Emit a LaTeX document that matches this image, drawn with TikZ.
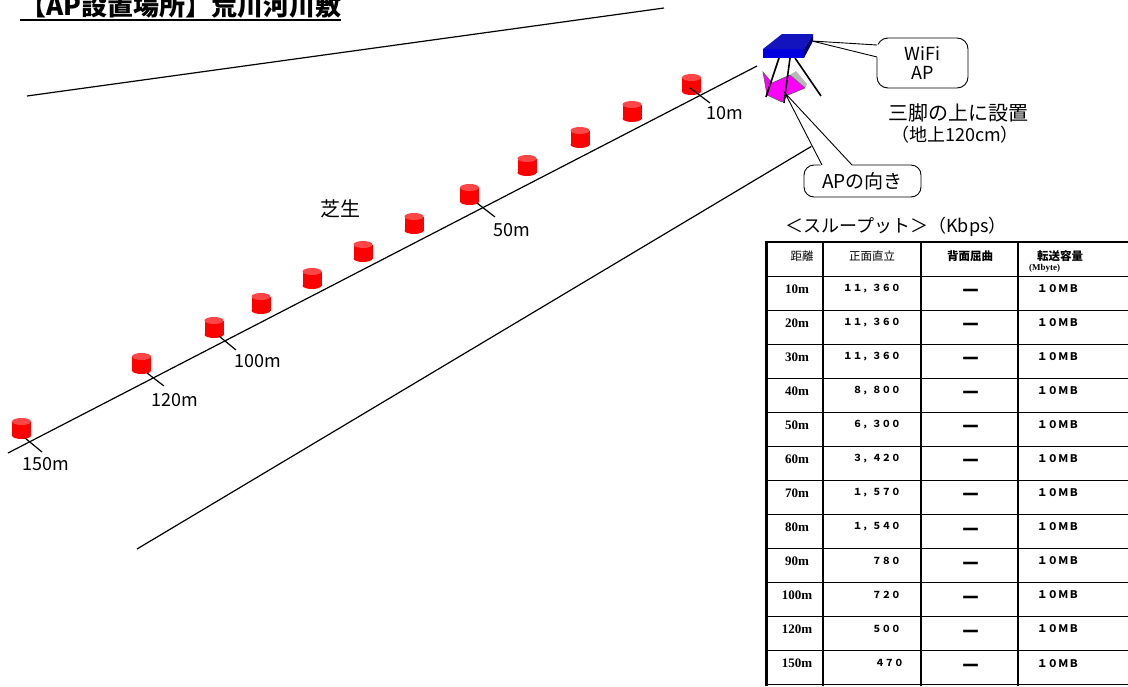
\documentclass[tikz,border=0pt]{standalone}
\usepackage{fontspec}
\setmainfont{Noto Sans CJK JP}
\newfontfamily\tnr{Liberation Serif}
\usetikzlibrary{calc}
\definecolor{drumred}{RGB}{255,0,0}
\definecolor{drumtop}{RGB}{255,70,70}
\definecolor{aptop}{RGB}{20,20,190}
\definecolor{apfront}{RGB}{0,0,225}
\definecolor{apside}{RGB}{0,0,120}
\definecolor{dirpink}{RGB}{255,0,255}
\begin{document}
\begin{tikzpicture}[x=1pt,y=-1pt,
  guide/.style={line width=1.2pt},
  tickline/.style={line width=1.2pt},
  dist/.style={font=\fontsize{18}{20}\selectfont, inner sep=0pt},
  jtext/.style={font=\fontsize{20}{22}\selectfont, inner sep=0pt},
  callout/.style={draw, line width=0.9pt, rounded corners=11pt, fill=white, inner sep=0pt, align=center},
  callline/.style={line width=0.9pt},
  leg/.style={line width=1.6pt},
  thinrule/.style={line width=0.9pt},
  colrule/.style={line width=1.2pt},
  hdr/.style={font=\fontsize{11.5}{12}\selectfont, inner sep=0pt},
  hdrb/.style={font=\fontsize{11.5}{12}\selectfont\bfseries, inner sep=0pt},
  rowlbl/.style={font=\tnr\fontsize{13}{14}\selectfont\bfseries, inner sep=0pt},
  val/.style={font=\fontsize{9.6}{10}\selectfont\bfseries, inner sep=0pt},
  nodash/.style={font=\fontsize{21}{21}\selectfont\bfseries, inner sep=0pt},
  sizecell/.style={font=\fontsize{10.5}{11}\selectfont\bfseries, inner sep=0pt, anchor=west},
]
\useasboundingbox (0,0) rectangle (1128,686);

% title
\node[font=\fontsize{26}{28}\selectfont\bfseries, inner sep=0pt, anchor=base west] (title) at (20,15) {【AP設置場所】荒川河川敷};
\draw[line width=1.5pt] ([yshift=-5pt]title.base west) -- ([yshift=-5pt]title.base east);

% field edges and measuring line
\coordinate (ea) at (27,96);   \coordinate (eb) at (664,8);
\coordinate (ma) at (8,453);   \coordinate (mb) at (757,66);
\coordinate (la) at (137,549); \coordinate (lb) at (812,146);
\draw[guide] (ea) -- (eb);
\draw[guide] (ma) -- (mb);
\draw[guide] (la) -- (lb);

% marker drums
\foreach \n/\x/\t in {10/691.5/74, 20/632/101, 30/580/127, 40/527/155, 50/469.5/184,
  60/414/213, 70/363/241, 80/312/268, 90/261/293, 100/214/317, 120/141.5/353, 150/21.5/418}{
  \coordinate (d\n) at (\x,\t);
  \fill[drumred] (\x-9.5,\t+3.5) rectangle (\x+9.5,\t+17.5);
  \fill[drumred] (\x,\t+17.5) ellipse (9.5 and 3.5);
  \fill[drumtop] (\x,\t+3.5) ellipse (9.5 and 3.5);
}

% distance ticks and labels
\foreach \n/\ax/\ay/\bx/\by/\lx/\ly in {10/690/88/710/103/725/113, 50/477/203/495/217/512/230,
  100/219/336/236/350/258/361, 120/147/373/164/386/175/400, 150/25/438/42/452/46/464}{
  \coordinate (ta\n) at (\ax,\ay);
  \coordinate (tb\n) at (\bx,\by);
  \draw[tickline] (ta\n) -- (tb\n);
  \node[dist] (l\n) at (\lx,\ly) {\n m};
}

\node[jtext] (grass) at (340,209) {芝生};

% access point on its tripod
\fill[dirpink] (763,72) -- (772,83) -- (790,75) -- (805,88) -- (788,95) -- (782,102) -- (767,95) -- cycle;
\fill[gray!55] (790,75) -- (796,71) -- (807,84) -- (805,88) -- cycle;
\draw[line width=0.6pt, gray!70!black] (763,72) -- (772,83) -- (790,75) -- (805,88) -- (788,95) -- (782,102) -- (767,95) -- cycle;
\draw[leg] (779,58) -- (766,97);
\draw[leg] (790,58) -- (784,103);
\draw[leg] (795,58) -- (821,96);
\fill[apfront] (763,49) rectangle (804,58);
\fill[aptop] (763,49) -- (782,34) -- (813,34) -- (804,49) -- cycle;
\fill[apside] (804,49) -- (813,34) -- (813,41) -- (804,58) -- cycle;

% callout: WiFi AP
\node[callout, minimum width=91pt, minimum height=50pt, font=\fontsize{18}{19}\selectfont] (wifi) at (922.5,63) {WiFi\\AP};
\coordinate (wtip) at (812,41);
\coordinate (wa) at (877,45);
\coordinate (wb) at (877,57);
\fill[white] (wtip) -- (878.5,44.3) -- (878.5,57.7) -- cycle;
\draw[callline] (wa) -- (wtip) -- (wb);

% callout: AP direction
\node[callout, minimum width=117pt, minimum height=32pt, rounded corners=10pt, font=\fontsize{19}{20}\selectfont] (dir) at (862.5,181) {APの向き};
\coordinate (dtip) at (785,93);
\coordinate (da) at (822,165);
\coordinate (db) at (852,165);
\fill[white] (dtip) -- (821.3,166.3) -- (852.7,166.3) -- cycle;
\draw[callline] (da) -- (dtip) -- (db);

\node[jtext] (tripod) at (958,113) {三脚の上に設置};
\node[dist] (height) at (955,135) {（地上120cm）};

% throughput table
\node[font=\fontsize{18}{20}\selectfont, inner sep=0pt] (ttl) at (896,227) {＜スループット＞（Kbps）};

\foreach \k in {1,...,12}{
  \draw[thinrule] (765,242+\k*34.05) -- (1128,242+\k*34.05);
}
\draw[line width=1.6pt] (765,684.6) -- (1128,684.6);
\foreach \cx in {823,921,1018}{
  \draw[colrule] (\cx,242) -- (\cx,686);
}
\draw[line width=2.6pt] (765,242) -- (1128,242);
\draw[line width=3pt] (766.5,240.7) -- (766.5,686);

\node[hdr] (h1) at (802,256) {距離};
\node[hdr] (h2) at (872,256) {正面直立};
\node[hdrb] (h3) at (970,256) {背面屈曲};
\node[hdrb, anchor=west] (h4) at (1037,256) {転送容量};
\node[font=\tnr\fontsize{9}{10}\selectfont\bfseries, inner sep=0pt, anchor=west] (h5) at (1029,268) {(Mbyte)};

\foreach \k/\d/\v/\vx in {1/10/１１，３６０/901, 2/20/１１，３６０/901, 3/30/１１，３６０/901,
  4/40/８，８００/901, 5/50/６，３００/901, 6/60/３，４２０/901, 7/70/１，５７０/901,
  8/80/１，５４０/901, 9/90/７８０/901, 10/100/７２０/901, 11/120/５００/901, 12/150/４７０/904}{
  \node[rowlbl] (r\k) at (797,242+\k*34.05+13) {\d m};
  \node[val, anchor=east] (v\k) at (\vx,242+\k*34.05+12.5) {\v};
  \node[nodash] (b\k) at (971,242+\k*34.05+18) {－};
  \node[sizecell] (c\k) at (1037,242+\k*34.05+12.5) {１０ＭＢ};
}
\end{tikzpicture}
\end{document}
